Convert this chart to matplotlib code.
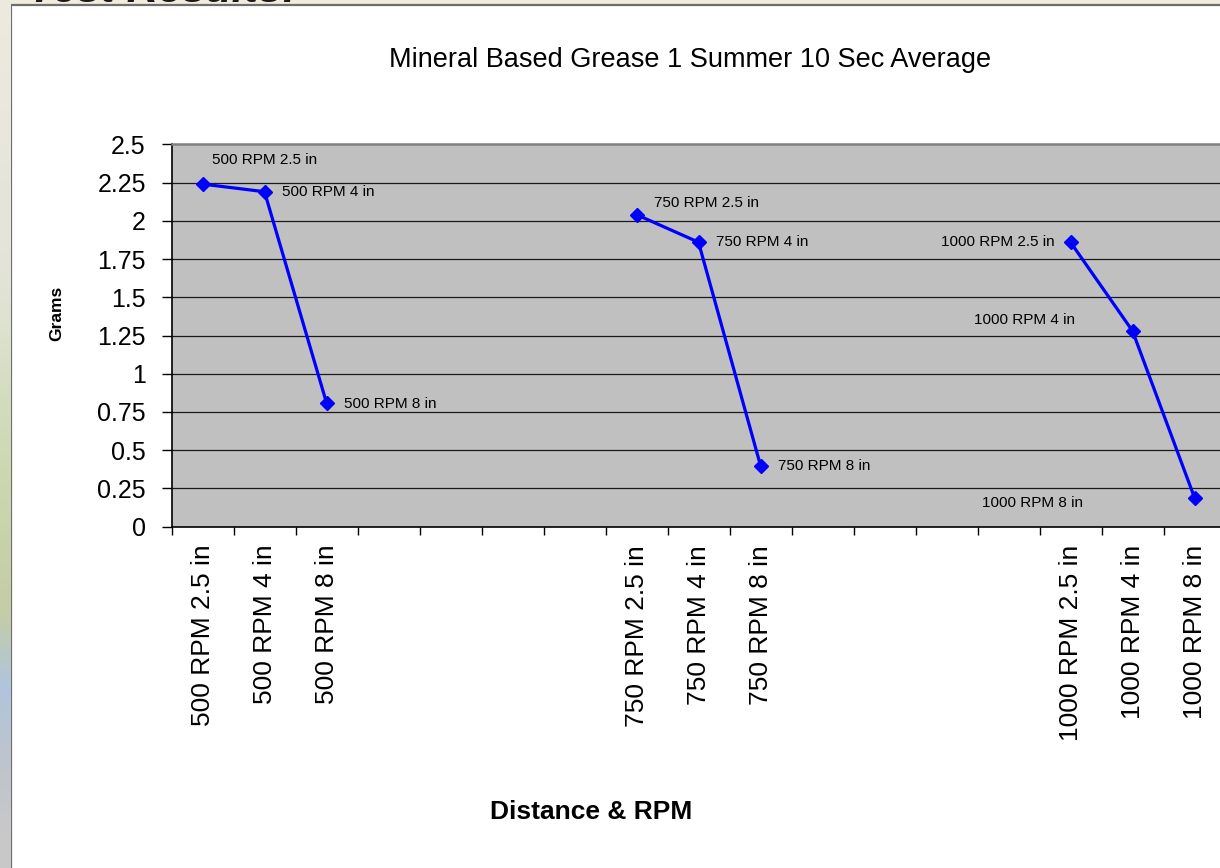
import numpy as np
import matplotlib.pyplot as plt
from matplotlib.patches import Rectangle

plt.rcParams['font.family'] = ['Liberation Sans', 'DejaVu Sans']

# x slots: three groups of three readings, blank slots between groups
categories = [
    "500 RPM 2.5 in", "500 RPM 4 in", "500 RPM 8 in", "", "", "", "",
    "750 RPM 2.5 in", "750 RPM 4 in", "750 RPM 8 in", "", "", "", "",
    "1000 RPM 2.5 in", "1000 RPM 4 in", "1000 RPM 8 in",
]
grams = [
    2.24, 2.19, 0.81, None, None, None, None,
    2.04, 1.86, 0.40, None, None, None, None,
    1.86, 1.28, 0.19,
]
y_ticks = [0, 0.25, 0.5, 0.75, 1, 1.25, 1.5, 1.75, 2, 2.25, 2.5]
y_tick_labels = ["0", "0.25", "0.5", "0.75", "1", "1.25", "1.5", "1.75", "2", "2.25", "2.5"]

W, H = 1220, 868
fig = plt.figure(figsize=(W / 100, H / 100), dpi=100, facecolor='#f1ecdc')

# slide backdrop strip on the left edge
bg = fig.add_axes([0, 0, 11 / W, 1])
strip = np.array([
    [236, 233, 222], [234, 232, 222], [230, 229, 220], [228, 228, 218],
    [222, 226, 208], [212, 220, 190], [205, 216, 178], [200, 210, 170],
    [196, 204, 168], [176, 196, 222], [190, 196, 204], [200, 200, 200],
]) / 255.0
bg.imshow(strip[:, None, :], aspect='auto', interpolation='bilinear',
          extent=[0, 1, 0, 1])
bg.set_axis_off()

# slide heading, mostly above the visible area
fig.text(28 / W, 1 - 2.5 / H, "Test Results:", fontsize=31, fontweight='bold',
         fontstyle='italic', color='#1a1a1a', ha='left', va='baseline',
         zorder=-2)

# chart frame
frame = Rectangle((10.5 / W, -0.1), 1.2, 1 - 5.5 / H + 0.1,
                  transform=fig.transFigure, facecolor='white',
                  edgecolor='#6e6e6e', linewidth=1.6)
frame.set_zorder(-1)
fig.add_artist(frame)

x = np.arange(len(categories))
y = np.array([np.nan if v is None else v for v in grams])

left, right = 171.5, 171.5 + 62 * len(categories)
top, bottom = 144.3, 526.7
ax = fig.add_axes([left / W, 1 - bottom / H, (right - left) / W, (bottom - top) / H])
ax.set_facecolor('#c0c0c0')

ax.plot(x, y, color='#0000ff', linewidth=2.3, marker='D', markersize=7,
        markeredgecolor='#0000ff', zorder=3, clip_on=False)

ax.set_xlim(-0.5, len(categories) - 0.5)
ax.set_ylim(0, 2.5)

ax.set_yticks(y_ticks)
ax.set_yticklabels(y_tick_labels)
ax.tick_params(axis='y', length=7, width=1, pad=11.5, labelsize=18,
               direction='out', color='black')
for g in y_ticks[1:-1]:
    ax.axhline(g, color='#1a1a1a', linewidth=0.9, zorder=1)

ax.set_xticks(x)
ax.set_xticklabels(categories, rotation=90, ha='center', va='top')
ax.tick_params(axis='x', which='major', length=0, pad=13, labelsize=19)
ax.set_xticks(np.arange(len(categories) + 1) - 0.5, minor=True)
ax.tick_params(axis='x', which='minor', length=5.5, width=1, color='black',
               direction='out')

for side in ['left', 'bottom']:
    ax.spines[side].set_color('black')
    ax.spines[side].set_linewidth(1.2)
ax.spines['top'].set_color('#808080')
ax.spines['top'].set_linewidth(1.8)
ax.spines['right'].set_visible(False)

# point labels (offsets in pixels)
offsets = {
    0: (10, 24, 'left'), 1: (17, 0, 'left'), 2: (17, -1, 'left'),
    7: (17, 12, 'left'), 8: (17, 0, 'left'), 9: (17, 0, 'left'),
    14: (-16, 0, 'right'), 15: (-58, 11, 'right'), 16: (-111, -5, 'right'),
}
for i, (dx, dy, ha) in offsets.items():
    ax.annotate(categories[i], xy=(x[i], y[i]), xytext=(dx, dy),
                textcoords='offset pixels', ha=ha, va='center',
                fontsize=11, color='black', zorder=4)

fig.text(690 / W, 1 - 60 / H, "Mineral Based Grease 1 Summer 10 Sec Average",
         fontsize=19.5, ha='center', va='center')
fig.text(57 / W, 1 - 313 / H, "Grams", fontsize=12.5, fontweight='bold',
         rotation=90, ha='center', va='center')
fig.text(591 / W, 1 - 812 / H, "Distance & RPM", fontsize=19, fontweight='bold',
         ha='center', va='center')

fig.savefig('out.png', dpi=100, facecolor=fig.get_facecolor())
